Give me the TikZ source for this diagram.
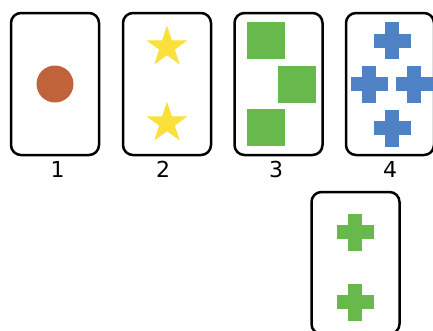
\documentclass[tikz,border=0pt]{standalone}
\usepackage{fontspec}
\setsansfont{DejaVu Sans}
\usetikzlibrary{shapes.geometric}
\definecolor{dotbrown}{RGB}{192,98,58}
\definecolor{staryellow}{RGB}{249,224,58}
\definecolor{cardgreen}{RGB}{104,185,76}
\definecolor{crossblue}{RGB}{79,130,196}
\tikzset{
  card/.style={draw=black, line width=2.5pt, rounded corners=10pt, fill=white,
    minimum width=88pt, minimum height=142pt, inner sep=0pt},
  cardnum/.style={font=\fontsize{22}{24}\sffamily, inner sep=0pt},
  starmark/.style={star, star points=5, star point ratio=2.6, fill=staryellow,
    minimum size=43pt, inner sep=0pt},
  squaremark/.style={fill=cardgreen, minimum width=38pt, minimum height=37pt, inner sep=0pt},
  plus/.pic={
    \fill[pic actions] (-18.5,-7) rectangle (18.5,7);
    \fill[pic actions] (-7,-18.5) rectangle (7,18.5);
  }
}
\begin{document}
\begin{tikzpicture}[x=1pt,y=-1pt]
  \clip (0,0) rectangle (433,330);
  \fill[white] (0,0) rectangle (433,330);

  % the four cards on top
  \node[card] (one) at (55,84) {};
  \node[card] (two) at (167,84) {};
  \node[card] (three) at (278.5,84) {};
  \node[card] (four) at (390,84) {};

  % numbers under the cards
  \node[cardnum] (n1) at (57.5,169) {1};
  \node[cardnum] (n2) at (163,169) {2};
  \node[cardnum] (n3) at (276,169) {3};
  \node[cardnum] (n4) at (390,169) {4};

  % card 1: one dot
  \node[circle, fill=dotbrown, minimum size=37pt, inner sep=0pt] (dot) at (55,84) {};

  % card 2: two stars
  \node[starmark] (s1) at (167,47) {};
  \node[starmark] (s2) at (167,123) {};

  % card 3: three squares
  \node[squaremark] (q1) at (266,40.5) {};
  \node[squaremark] (q2) at (297,84) {};
  \node[squaremark] (q3) at (266,127) {};

  % card 4: four crosses
  \pic[fill=crossblue] at (392,40.5) {plus};
  \pic[fill=crossblue] at (369,84) {plus};
  \pic[fill=crossblue] at (414,84) {plus};
  \pic[fill=crossblue] at (392,128) {plus};

  % the card below
  \node[card] (five) at (355.5,263) {};
  \pic[fill=cardgreen] at (355,232) {plus};
  \pic[fill=cardgreen] at (355,302) {plus};
\end{tikzpicture}
\end{document}
